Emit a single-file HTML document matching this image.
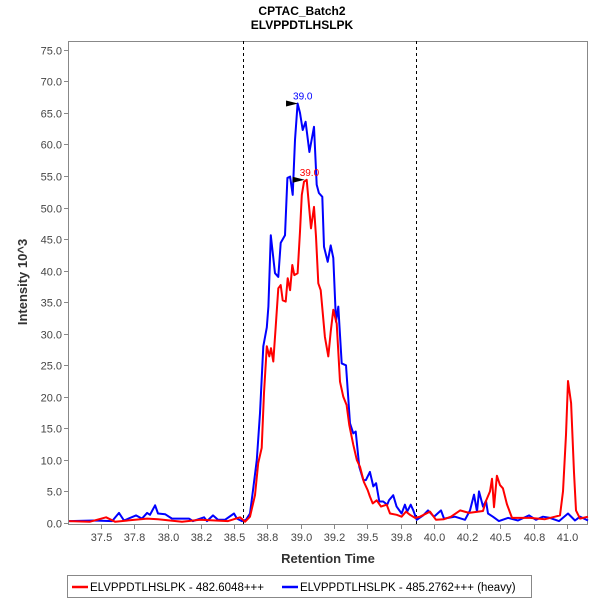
<!DOCTYPE html>
<html><head><meta charset="utf-8"><style>
body{margin:0;background:#fff;font-family:"Liberation Sans",sans-serif}
svg text{font-family:"Liberation Sans",sans-serif}
</style></head><body>
<svg id="c" width="600" height="600">
<text x="302" y="15" text-anchor="middle" font-size="12" font-weight="bold">CPTAC_Batch2</text>
<text x="302" y="29" text-anchor="middle" font-size="12" font-weight="bold">ELVPPDTLHSLPK</text>
<text transform="translate(27,282) rotate(-90)" text-anchor="middle" font-size="13" font-weight="bold" fill="#333">Intensity 10^3</text>
<text x="328" y="563" text-anchor="middle" font-size="13" font-weight="bold" fill="#333">Retention Time</text>
<g id="axes"></g>
<g id="series"></g>
<g>
<rect x="67.5" y="575.5" width="464" height="22" fill="#fff" stroke="#888"/>
<line x1="72" y1="587" x2="88" y2="587" stroke="#f00" stroke-width="2.5"/>
<text x="90" y="591" font-size="11.5">ELVPPDTLHSLPK - 482.6048+++</text>
<line x1="282" y1="587" x2="298" y2="587" stroke="#00f" stroke-width="2.5"/>
<text x="300" y="591" font-size="11.5">ELVPPDTLHSLPK - 485.2762+++ (heavy)</text>
</g>
</svg>
<script>
const xTicks=[37.5,37.75,38.0,38.25,38.5,38.75,39.0,39.25,39.5,39.75,40.0,40.25,40.5,40.75,41.0];
const xTickLabels=["37.5","37.8","38.0","38.2","38.5","38.8","39.0","39.2","39.5","39.8","40.0","40.2","40.5","40.8","41.0"];
const yTicks=[0,5,10,15,20,25,30,35,40,45,50,55,60,65,70,75];
const markerTimes=[38.565,39.865];
const blueT=[37.26,37.447,37.583,37.635,37.673,37.763,37.808,37.846,37.868,37.906,37.928,37.981,38.033,38.161,38.191,38.274,38.296,38.341,38.379,38.431,38.499,38.521,38.559,38.589,38.619,38.642,38.67,38.694,38.719,38.745,38.757,38.775,38.807,38.832,38.85,38.882,38.9,38.92,38.94,38.957,38.977,38.995,39.015,39.037,39.065,39.1,39.12,39.137,39.162,39.175,39.203,39.225,39.245,39.265,39.282,39.308,39.34,39.37,39.395,39.413,39.44,39.47,39.49,39.52,39.545,39.566,39.59,39.62,39.65,39.663,39.695,39.72,39.758,39.783,39.8,39.826,39.846,39.871,39.919,39.956,40.001,40.054,40.076,40.159,40.234,40.272,40.302,40.324,40.339,40.369,40.392,40.407,40.444,40.489,40.557,40.632,40.715,40.767,40.82,40.872,40.94,41.008,41.06,41.098,41.158];
const blueV=[0.3,0.4,0.3,1.6,0.4,1.2,0.7,1.6,1.3,2.8,1.5,1.4,0.7,0.7,0.3,0.9,0.3,1.2,0.5,0.5,1.5,0.7,0.3,0.5,1.5,5.2,10,17.4,28,31,34.3,45.6,39.6,39,44.4,45.6,54.7,54.9,52,60.7,66.5,65,62.3,63.6,58.8,62.8,53.6,52.3,51.7,43.8,41.4,44,42,31.9,34.3,25.3,25,15.8,14.2,14.5,8.9,6.8,6.8,8.1,5.8,6.3,3.4,3.4,2.9,3.6,4.4,2.6,1.5,2.9,1.8,2.9,2,0.5,1.2,2.0,1.0,2.0,0.7,1.0,0.5,2.0,4.5,1.8,5.0,2.6,3.5,1.5,1.0,0.3,0.8,0.4,1.2,0.5,1.0,0.8,0.3,1.5,0.4,1.0,0.4];
const redT=[37.26,37.417,37.538,37.605,37.846,37.928,38.108,38.244,38.454,38.544,38.582,38.619,38.657,38.681,38.707,38.724,38.745,38.764,38.777,38.794,38.812,38.832,38.85,38.865,38.887,38.902,38.92,38.937,38.952,38.977,38.995,39.008,39.025,39.045,39.057,39.077,39.1,39.115,39.132,39.15,39.182,39.207,39.225,39.245,39.27,39.295,39.32,39.345,39.365,39.395,39.421,39.445,39.475,39.503,39.52,39.541,39.571,39.603,39.646,39.671,39.721,39.758,39.791,39.821,39.859,39.896,39.971,40.016,40.076,40.129,40.197,40.264,40.369,40.392,40.422,40.437,40.452,40.474,40.497,40.519,40.549,40.587,40.722,40.835,40.91,40.948,40.97,40.993,41.008,41.031,41.053,41.068,41.098,41.158];
const redV=[0.3,0.2,0.9,0.2,0.7,0.6,0.2,0.5,0.3,0.9,0.2,1.0,4.4,9.5,11.9,20.6,28,26.4,27.7,25.6,31.1,37.2,37.7,35.3,35.1,38.8,36.9,40.9,39.3,39.6,46.2,52,54.1,54.4,51.5,46.7,50.1,45.4,38,36.9,29.5,26.4,30.3,33.8,31.6,22.4,20,18.7,15.5,12.4,10,8.9,6.5,5.2,4.2,3.1,3.6,2.6,2.9,1.5,1.3,1.0,1.8,1.3,0.8,1.0,1.8,0.5,0.6,1.0,2.0,1.6,1.9,3.5,5,7,2.5,7.5,6,5.5,3,0.8,0.8,0.6,1.0,1.2,5,14,22.5,19,8,2,0.7,1.0];
const peakLabels=[{t:38.995,v:66.5,c:"#00f",s:"39.0"},{t:39.045,v:54.4,c:"#f00",s:"39.0"}];

const L=68,R=588,T=41,B=524,XMIN=37.252,XMAX=41.158,YMIN=-0.16,YMAX=76.4;
const X=t=>L+(t-XMIN)/(XMAX-XMIN)*(R-L);
const Y=v=>B-(v-YMIN)/(YMAX-YMIN)*(B-T);
const NS="http://www.w3.org/2000/svg";
function mk(tag,attrs,parent){const e=document.createElementNS(NS,tag);for(const k in attrs)e.setAttribute(k,attrs[k]);parent.appendChild(e);return e;}
const ax=document.getElementById('axes'),se=document.getElementById('series');
let frame=mk('rect',{x:L+.5,y:T+.5,width:R-L-1,height:B-T,fill:'none',stroke:'#888'},ax);


yTicks.forEach(v=>{const y=Math.round(Y(v))+.5;
 let l=mk('line',{x1:L-4,x2:L,y1:y,y2:y,stroke:'#888'},ax);
 
 
 let t=mk('text',{x:L-6,y:y+4,'text-anchor':'end','font-size':11,fill:'#444'},ax);t.textContent=v.toFixed(1);
 
 });
xTicks.forEach((v,i)=>{const x=Math.round(X(v))+.5;
 let l=mk('line',{x1:x,x2:x,y1:B+1,y2:B+5,stroke:'#888'},ax);
 
 
 let t=mk('text',{x:x,y:B+17,'text-anchor':'middle','font-size':11,fill:'#444'},ax);t.textContent=xTickLabels[i];
 
 });
markerTimes.forEach(m=>{const x=Math.round(X(m))+.5;
 let l=mk('line',{x1:x,x2:x,y1:T,y2:B,stroke:'#000','stroke-dasharray':'3,3'},ax);
 
 });
function line(ts,vs,c,name){const d=ts.map((t,i)=>(i?'L':'M')+X(t).toFixed(1)+','+Y(vs[i]).toFixed(1)).join('');
 let p=mk('path',{d:d,fill:'none',stroke:c,'stroke-width':2,'stroke-linejoin':'round'},se);
 
 }
line(blueT,blueV,'#00f','heavy-series-line');
line(redT,redV,'#f00','light-series-line');
peakLabels.forEach(p=>{const x=X(p.t),y=Y(p.v);
 let a=mk('polygon',{points:`${x-14},${y-3} ${x-2},${y} ${x-14},${y+3}`,fill:'#000'},se);
 
 
 let t=mk('text',{x:x-7,y:y-4,'font-size':10,fill:p.c},se);t.textContent=p.s;
 
 });
</script>
</body></html>
